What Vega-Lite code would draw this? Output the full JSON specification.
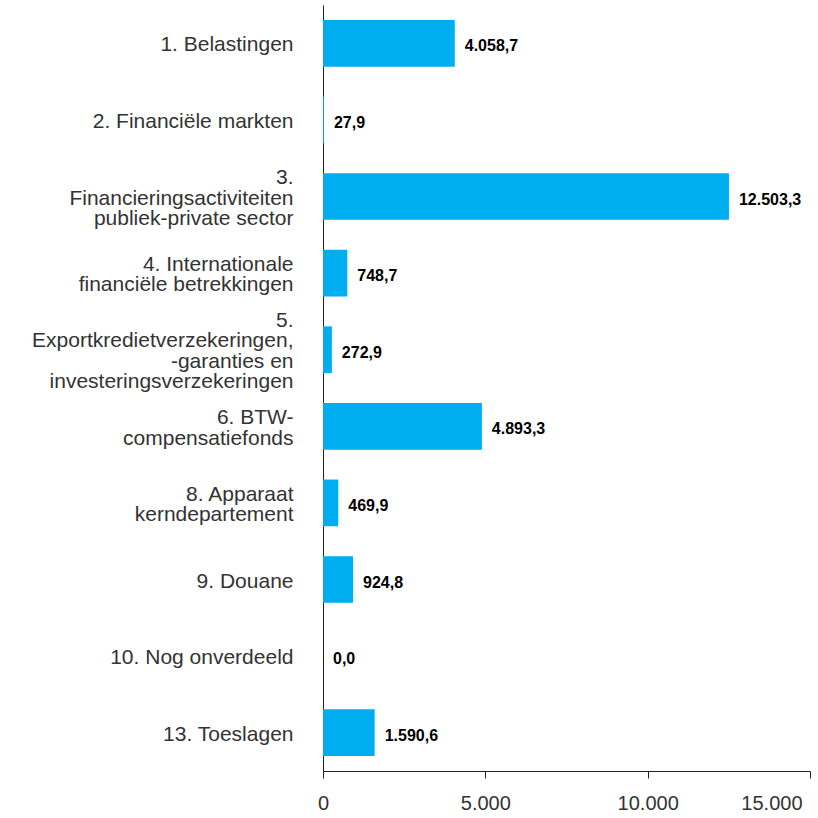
{
  "$schema": "https://vega.github.io/schema/vega-lite/v6.json",
  "width": 487,
  "height": 766,
  "autosize": {"type": "none"},
  "padding": {"left": 323, "top": 5, "right": 8, "bottom": 47},
  "background": "white",
  "config": {
    "view": {"stroke": null},
    "locale": {"number": {"decimal": ",", "thousands": ".", "grouping": [3], "currency": ["€", ""]}},
    "font": "Liberation Sans"
  },
  "data": {
    "values": [
      {"cat": "1. Belastingen", "value": 4058.7},
      {"cat": "2. Financiële markten", "value": 27.9},
      {"cat": "3.|Financieringsactiviteiten|publiek-private sector", "value": 12503.3},
      {"cat": "4. Internationale|financiële betrekkingen", "value": 748.7},
      {"cat": "5.|Exportkredietverzekeringen,|-garanties en|investeringsverzekeringen", "value": 272.9},
      {"cat": "6. BTW-|compensatiefonds", "value": 4893.3},
      {"cat": "8. Apparaat|kerndepartement", "value": 469.9},
      {"cat": "9. Douane", "value": 924.8},
      {"cat": "10. Nog onverdeeld", "value": 0.0},
      {"cat": "13. Toeslagen", "value": 1590.6}
    ]
  },
  "encoding": {
    "y": {
      "field": "cat",
      "type": "nominal",
      "sort": null,
      "scale": {"paddingInner": 0.39, "paddingOuter": 0.195},
      "axis": {
        "title": null,
        "ticks": false,
        "labelPadding": 30,
        "labelLimit": 0,
        "labelFontSize": 21,
        "labelLineHeight": 20.5,
        "labelColor": "#333333",
        "labelExpr": "split(datum.label, '|')",
        "labelOffset": {"expr": "2 - (length(split(datum.value, '|')) - 1) * 10.25"},
        "domainColor": "#222222",
        "domainWidth": 1
      }
    },
    "x": {
      "field": "value",
      "type": "quantitative",
      "scale": {"domain": [0, 15000], "nice": false},
      "axis": {
        "title": null,
        "grid": false,
        "values": [0, 5000, 10000, 15000],
        "format": ",.0f",
        "tickSize": 7,
        "tickColor": "#222222",
        "domainColor": "#222222",
        "labelFontSize": 20,
        "labelColor": "#333333",
        "labelPadding": 15,
        "labelAlign": {"expr": "datum.value == 15000 ? 'right' : 'center'"},
        "labelOffset": {"expr": "datum.value == 15000 ? -8 : 0"}
      }
    }
  },
  "layer": [
    {"mark": {"type": "bar", "color": "#00AEEF"}},
    {
      "mark": {"type": "text", "align": "left", "baseline": "middle", "dx": 10, "dy": 3, "fontSize": 16, "fontWeight": "bold", "color": "#000000"},
      "encoding": {"text": {"field": "value", "type": "quantitative", "format": ",.1f"}}
    }
  ]
}
